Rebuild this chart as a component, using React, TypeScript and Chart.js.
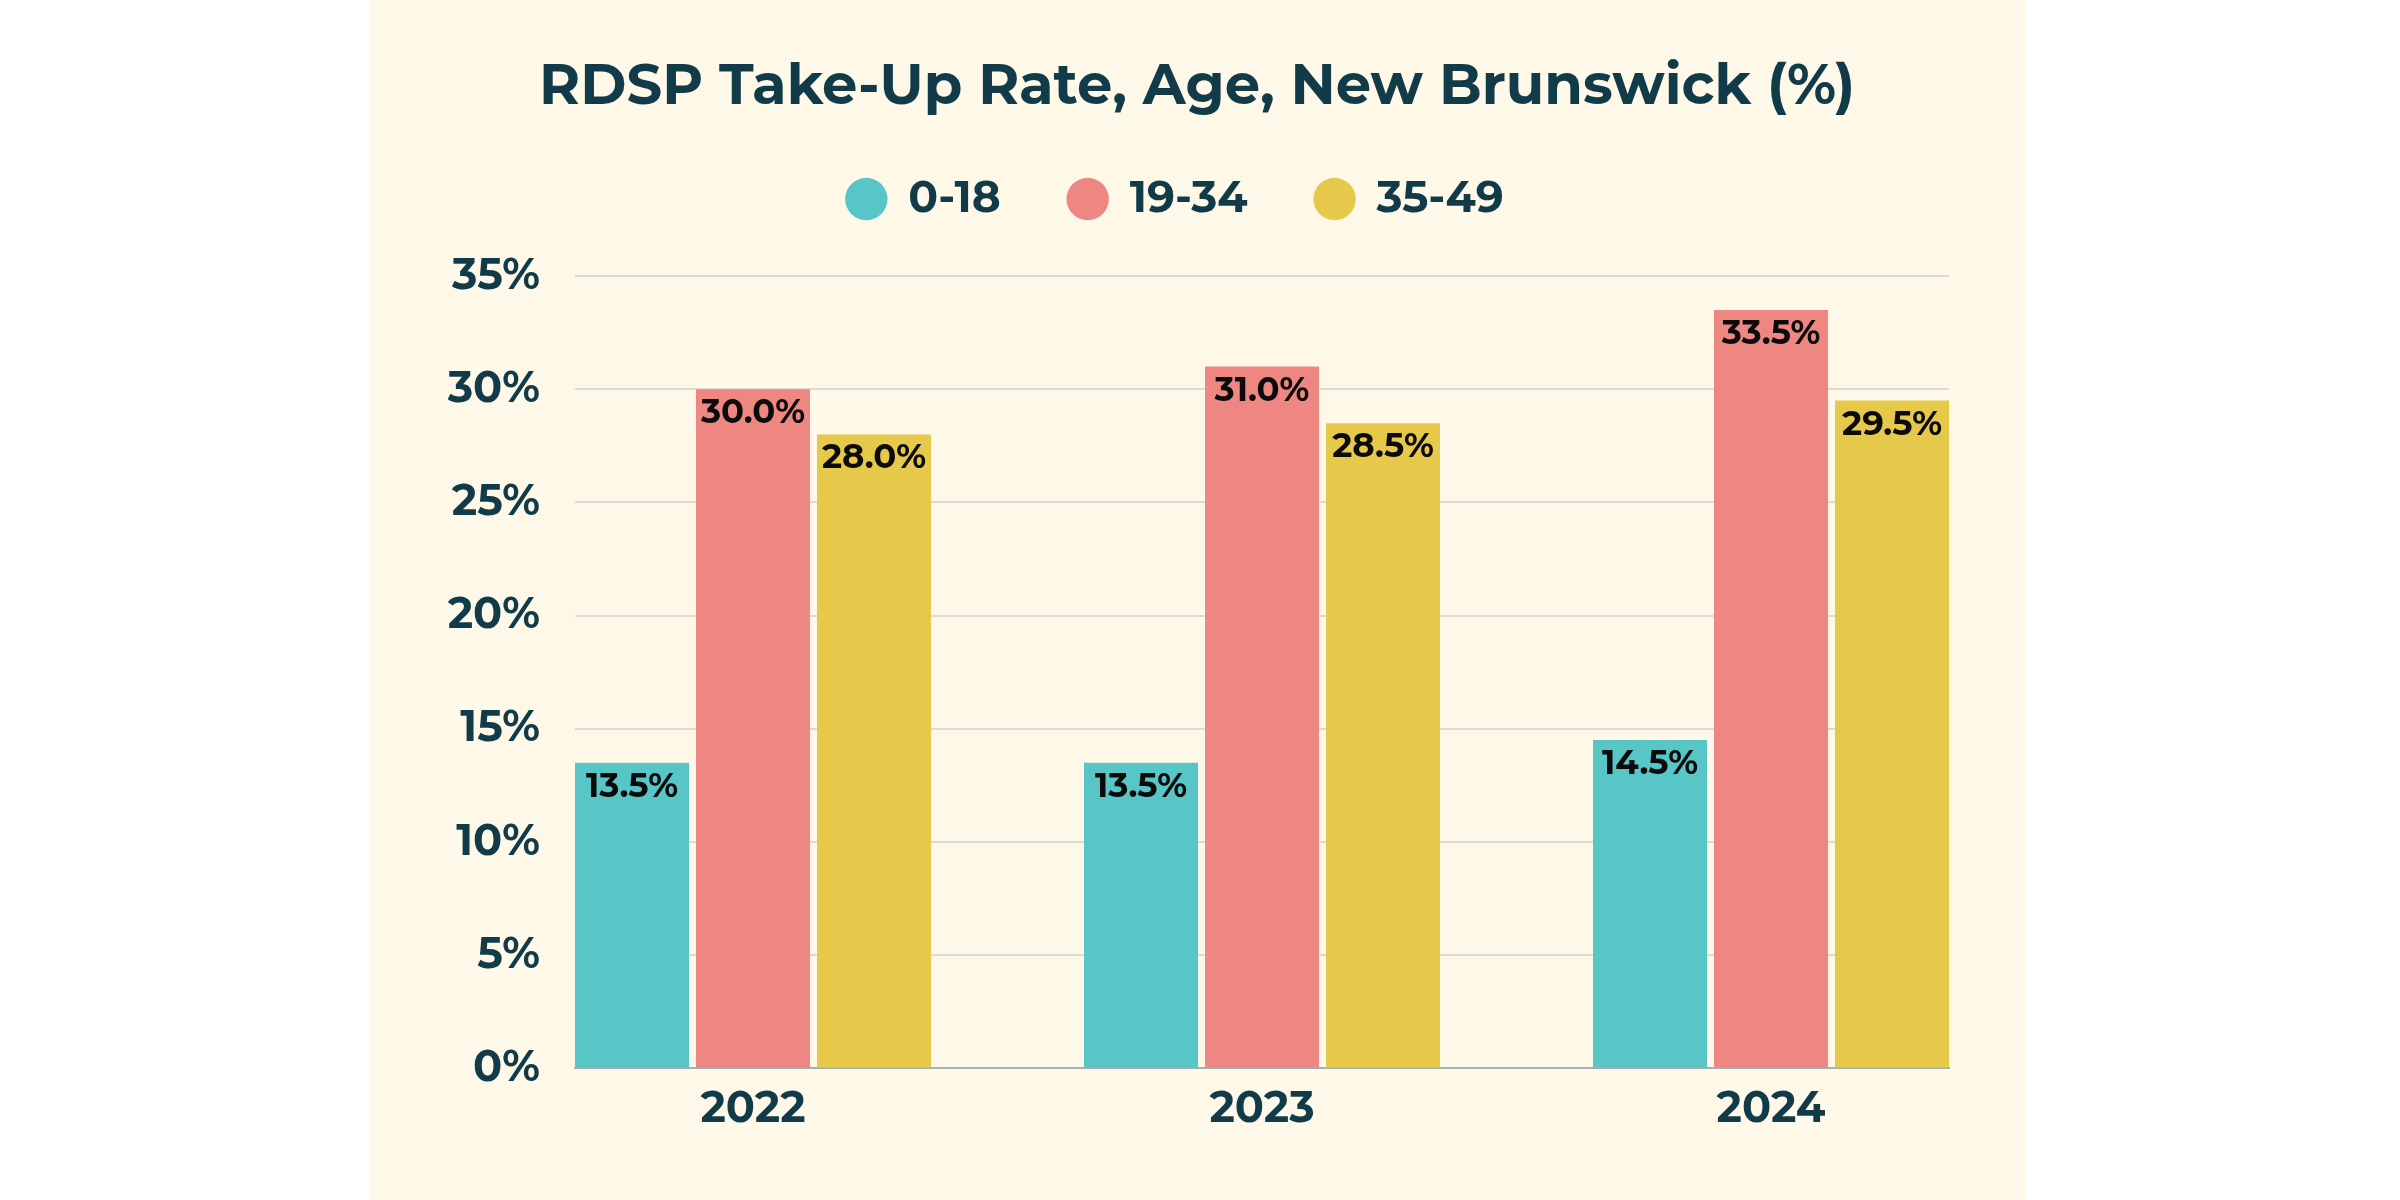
import React, { useEffect, useRef } from 'react';
import { Chart, registerables } from 'chart.js';

Chart.register(...registerables);

const years = [2022, 2023, 2024];
const seriesNames = ['0-18', '19-34', '35-49'];
const age0to18 = [13.5, 13.5, 14.5];
const age19to34 = [30.0, 31.0, 33.5];
const age35to49 = [28.0, 28.5, 29.5];
const seriesColors = ['#58C5C6', '#EE8782', '#E6C84B'];
const titleText = 'RDSP Take-Up Rate, Age, New Brunswick (%)';
const yMax = 35;
const yStep = 5;

const FONT = "Montserrat, Inter, 'Noto Sans', sans-serif";
const DARK = '#123B4A';

const valueLabels = {
  id: 'valueLabels',
  afterDatasetsDraw(chart: any) {
    const ctx = chart.ctx;
    ctx.save();
    ctx.font = `700 34px ${FONT}`;
    ctx.fillStyle = '#0b0b0b';
    ctx.textAlign = 'center';
    ctx.textBaseline = 'alphabetic';
    chart.data.datasets.forEach((ds: any, i: number) => {
      const meta = chart.getDatasetMeta(i);
      meta.data.forEach((bar: any, j: number) => {
        const v = ds.data[j];
        ctx.fillText(v.toFixed(1) + '%', bar.x, bar.y + 34);
      });
    });
    ctx.restore();
  },
};

const legendSpacer = {
  id: 'legendSpacer',
  beforeLayout(chart: any) {
    const legend = chart.legend;
    if (legend && !legend.__patched) {
      const origFit = legend.fit;
      legend.fit = function () {
        origFit.call(this);
        this.height += 39;
      };
      const origDraw = legend.draw;
      legend.draw = function () {
        const ctx = this.ctx;
        ctx.save();
        ctx.translate(-22, -6);
        origDraw.call(this);
        ctx.restore();
      };
      legend.__patched = true;
    }
  },
};

export default function App() {
  const ref = useRef<HTMLCanvasElement>(null);
  useEffect(() => {
    document.body.style.margin = '0';
    const chart = new Chart(ref.current as HTMLCanvasElement, {
      type: 'bar',
      data: {
        labels: years,
        datasets: [
          { label: seriesNames[0], data: age0to18, backgroundColor: seriesColors[0] },
          { label: seriesNames[1], data: age19to34, backgroundColor: seriesColors[1] },
          { label: seriesNames[2], data: age35to49, backgroundColor: seriesColors[2] },
        ],
      },
      options: {
        responsive: false,
        animation: false,
        devicePixelRatio: 1,
        layout: { padding: { top: 0, left: 0, right: 0, bottom: 50 } },
        datasets: {
          bar: { categoryPercentage: 0.7132, barPercentage: 0.942, borderWidth: 0 },
        },
        plugins: {
          tooltip: { enabled: false },
          title: {
            display: true,
            text: titleText,
            color: DARK,
            font: { family: FONT, size: 56, weight: '700', lineHeight: 1 },
            padding: { top: 60, bottom: 0 },
          },
          legend: {
            display: true,
            position: 'top',
            labels: {
              usePointStyle: true,
              pointStyle: 'circle',
              boxWidth: 40,
              boxHeight: 30,
              padding: 67,
              color: DARK,
              font: { family: FONT, size: 44, weight: '700' },
            },
          },
        },
        scales: {
          x: {
            type: 'linear',
            offset: false,
            min: years[0] - 0.3497,
            max: years[years.length - 1] + 0.3497,
            grid: { display: false, drawTicks: false },
            border: { display: true, color: '#A3B1AE', width: 2 },
            ticks: {
              stepSize: 1,
              includeBounds: false,
              padding: 15,
              maxRotation: 0,
              color: DARK,
              font: { family: FONT, size: 43, weight: '700' },
              callback: (v: any) => String(v),
            },
          },
          y: {
            min: 0,
            max: yMax,
            afterFit: (scale: any) => {
              scale.width = 206;
            },
            grid: { color: '#DDDBD1', lineWidth: 2, drawTicks: false },
            border: { display: false },
            ticks: {
              stepSize: yStep,
              padding: 35,
              color: DARK,
              font: { family: FONT, size: 43, weight: '700' },
              callback: (v: any) => v + '%',
            },
          },
          rightSpace: {
            type: 'linear',
            position: 'right',
            display: true,
            afterFit: (scale: any) => {
              scale.width = 76;
            },
            grid: { display: false, drawTicks: false },
            border: { display: false },
            ticks: { display: false },
          },
        },
      },
      plugins: [valueLabels, legendSpacer],
    } as any);
    return () => chart.destroy();
  }, []);

  return (
    <div style={{ position: 'fixed', left: 0, top: 0, width: 2400, height: 1200, background: '#FFFFFF' }}>
      <div style={{ position: 'absolute', left: 369, top: 0, width: 1656, height: 1200, background: '#FEF8E9' }}>
        <canvas ref={ref} width={1656} height={1200} style={{ display: 'block' }} />
      </div>
    </div>
  );
}
